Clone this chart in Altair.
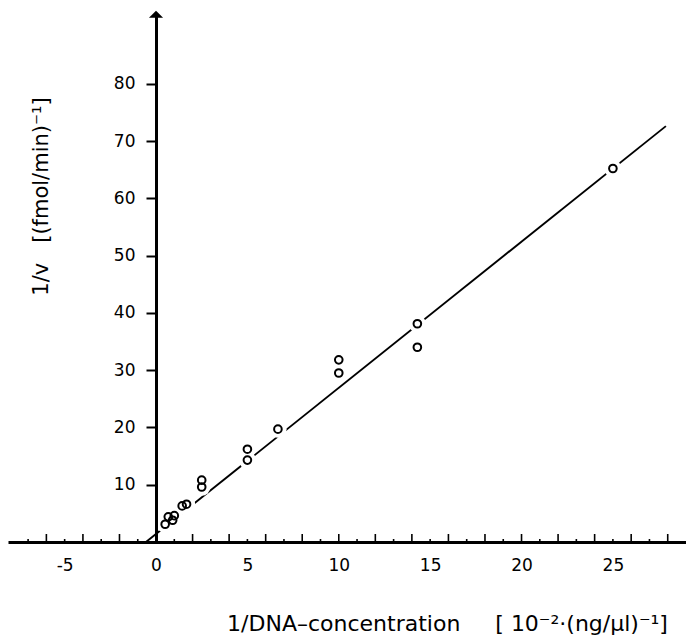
import altair as alt
import pandas as pd

# data points (1/DNA, 1/v)
x_vals = [0.5, 0.67, 0.91, 1.0, 1.43, 1.67, 2.5, 2.5, 5.0, 5.0, 6.67, 10.0, 10.0, 14.3, 14.3, 25.0]
y_vals = [3.1, 4.4, 3.8, 4.6, 6.3, 6.6, 9.6, 10.8, 14.3, 16.2, 19.7, 29.5, 31.8, 34.0, 38.1, 65.2]

# fitted line end points
line_x = [-0.55, 27.9]
line_y = [0.0, 72.6]

x_major_ticks = list(range(-6, 29, 2))
x_minor_ticks = list(range(-7, 29, 2))
x_label_values = [-5, 0, 5, 10, 15, 20, 25]
y_label_values = [10, 20, 30, 40, 50, 60, 70, 80]

NB = "\u00a0"
X_TITLE = "1/DNA\u2013concentration" + NB * 5 + "[" + NB + "10\u207b\u00b2\u00b7(ng/\u00b5l)\u207b\u00b9]"
Y_TITLE = "1/v" + NB * 3 + "[(fmol/min)\u207b\u00b9]"

FONT = "DejaVu Sans"
W, H = 678, 527

pts = pd.DataFrame({"x": x_vals, "y": y_vals})
ln = pd.DataFrame({"x": line_x, "y": line_y})
major = pd.DataFrame({"t": x_major_ticks})
minor = pd.DataFrame({"t": x_minor_ticks})
arrow = pd.DataFrame({"x": [0.0], "y": [92.0]})

xs = alt.Scale(domain=[-8.1, 29.0], nice=False, zero=False)
ys = alt.Scale(domain=[0, 92], nice=False, zero=False)

x_axis = alt.Axis(
    values=x_label_values, ticks=False, tickSize=0, grid=False,
    domainColor="black", domainWidth=3,
    labelFont=FONT, labelFontSize=17, labelColor="black", labelPadding=15,
    labelBaseline="top", labelExpr="'' + datum.value",
    title=X_TITLE, titleFont=FONT, titleFontSize=22, titleFontWeight="normal",
    titleColor="black", titleX=439, titleY=88, titleAlign="center",
    titleBaseline="alphabetic", titleAngle=0, zindex=1,
)
y_axis = alt.Axis(
    orient="left", offset=-148, values=y_label_values, grid=False,
    domainColor="black", domainWidth=3, tickColor="black", tickWidth=2, tickSize=10,
    labelFont=FONT, labelFontSize=17, labelColor="black", labelPadding=11,
    title=Y_TITLE, titleFont=FONT, titleFontSize=21, titleFontWeight="normal",
    titleColor="black", titleX=-109, titleY=181, titleAlign="center",
    titleBaseline="alphabetic", titleAngle=-90, zindex=1,
)

X = lambda f: alt.X(f, scale=xs, axis=x_axis)
Y = lambda f: alt.Y(f, scale=ys, axis=y_axis)

line = alt.Chart(ln).mark_line(color="black", strokeWidth=1.9).encode(
    x=X("x:Q"), y=Y("y:Q"),
)

# white halo behind each point breaks the fitted line, as in the original
halo = alt.Chart(pts).mark_circle(
    color="white", opacity=1, size=300
).encode(x=X("x:Q"), y=Y("y:Q"))

circles = alt.Chart(pts).mark_point(
    shape="circle", filled=False, color="black", strokeWidth=2, size=58, opacity=1
).encode(x=X("x:Q"), y=Y("y:Q"))

major_rules = alt.Chart(major).mark_rule(color="black", strokeWidth=1.6).encode(
    x=X("t:Q"), y=alt.value(H), y2=alt.value(H - 8),
)
minor_rules = alt.Chart(minor).mark_rule(color="black", strokeWidth=1.6).encode(
    x=X("t:Q"), y=alt.value(H), y2=alt.value(H - 3),
)

arrow_head = alt.Chart(arrow).mark_point(
    shape="M-1,0.4L0,-0.6L1,0.4Z", filled=True, color="black", opacity=1, size=200
).encode(x=X("x:Q"), y=Y("y:Q"))

chart = alt.layer(line, halo, circles, major_rules, minor_rules, arrow_head).properties(
    width=W, height=H,
    padding={"left": 8, "top": 15, "right": 0, "bottom": 99},
    autosize="none",
    background="white",
).configure_view(stroke=None)

chart.save("out.html", embed_options={"renderer": "svg", "actions": False})
